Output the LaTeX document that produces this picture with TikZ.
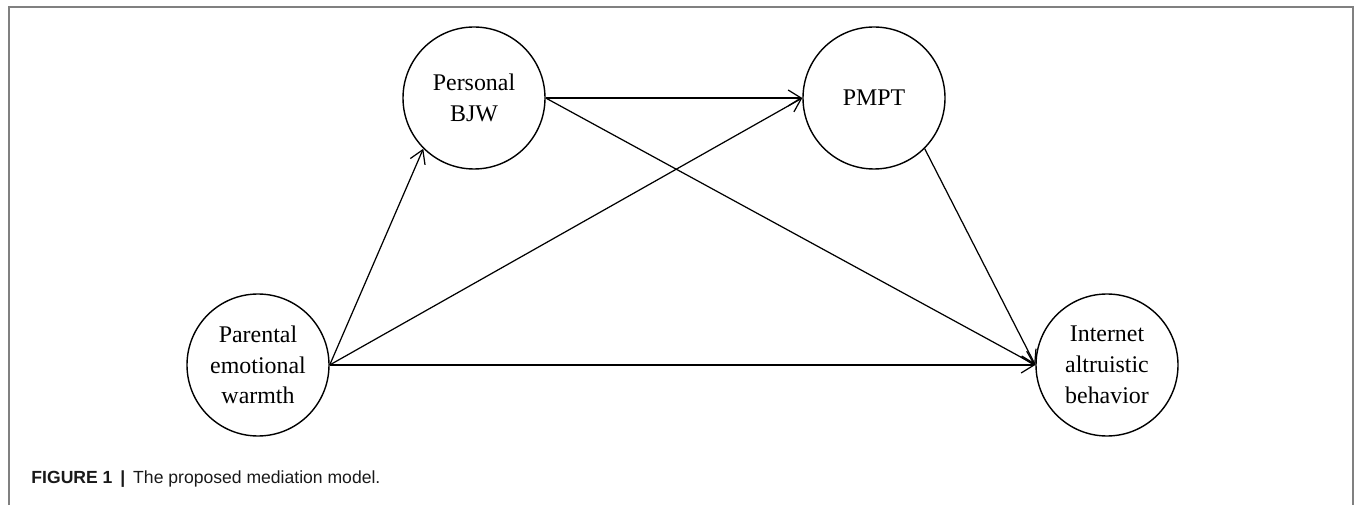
\documentclass[tikz,border=0pt]{standalone}
\usepackage{fontspec}
\setmainfont{Liberation Serif}
\newfontfamily\capfont{Liberation Sans}
\usepackage{tikz}
\usetikzlibrary{arrows.meta}

\tikzset{
    construct/.style={circle, draw, line width=0.8pt, minimum size=2.84cm, inner sep=0pt,
        align=center, font=\fontsize{13.6}{17.5}\selectfont},
    frameline/.style={-, draw=black!50, line width=1pt}
}

\begin{document}
\begin{tikzpicture}[->, >={Straight Barb[length=2.6mm, width=3.2mm]}, line width=0.7pt]
    \useasboundingbox (0,0) rectangle (27.1,10.1);
    % frame round the figure, open at the bottom
    \draw[frameline] (0.18,0) -- (0.18,9.96) -- (27.06,9.96) -- (27.06,0);

    \node[construct] (pew)  at (5.16,2.8)  {Parental\\emotional\\warmth};
    \node[construct] (bjw)  at (9.48,8.14) {Personal\\BJW};
    \node[construct] (pmpt) at (17.48,8.14) {PMPT};
    \node[construct] (iab)  at (22.14,2.8) {Internet\\altruistic\\behavior};

    \path   (pew.east) edge (bjw.south west)
            (pew.east) edge (pmpt.west)
            (pew.east) edge (iab.west)
            (bjw.east) edge (pmpt.west)
            (bjw.east) edge (iab.west)
            (pmpt.south east) edge (iab.west)
    ;

    \node[anchor=base west, font=\capfont\fontsize{10}{12}\selectfont, text=black!90] (caption) at (0.5,0.42)
        {\textbf{FIGURE 1}\hspace{4.5pt}\textbf{|}\hspace{4.5pt}The proposed mediation model.};
\end{tikzpicture}
\end{document}
